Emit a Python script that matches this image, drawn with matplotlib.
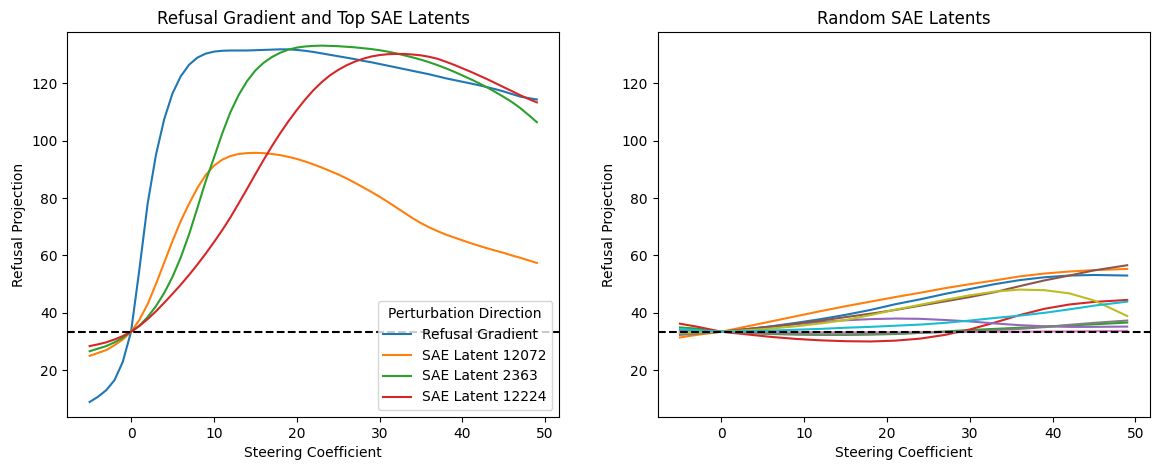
import numpy as np
import matplotlib
matplotlib.use("Agg")
import matplotlib.pyplot as plt

# steering coefficients
coef = np.arange(-5, 50)

baseline = 33.4

refusal_grad = [8.9, 10.7, 13.0, 16.5, 22.9, 33.4, 55.0, 78.0, 95.0, 107.5,
                116.5, 122.5, 126.5, 129.0, 130.4, 131.1, 131.4, 131.5, 131.5, 131.5,
                131.6, 131.7, 131.8, 131.9, 131.9, 131.7, 131.4, 131.0, 130.5, 130.0,
                129.5, 129.0, 128.5, 127.9, 127.4, 126.8, 126.2, 125.6, 125.0, 124.4,
                123.8, 123.2, 122.5, 121.8, 121.2, 120.6, 120.0, 119.4, 118.7, 118.0,
                117.2, 116.3, 115.4, 114.9, 114.4]
latent_12072 = [25.0, 26.0, 27.0, 28.7, 30.7, 33.4, 37.5, 43.0, 50.0, 57.5,
                65.0, 72.0, 78.0, 83.5, 88.0, 91.3, 93.4, 94.7, 95.4, 95.7,
                95.8, 95.7, 95.4, 95.0, 94.4, 93.7, 92.8, 91.8, 90.7, 89.5,
                88.3, 86.9, 85.4, 83.8, 82.2, 80.5, 78.7, 76.8, 74.9, 73.0,
                71.3, 69.8, 68.5, 67.3, 66.3, 65.3, 64.3, 63.4, 62.5, 61.7,
                60.9, 60.0, 59.2, 58.3, 57.4]
latent_2363 = [26.6, 27.5, 28.4, 29.7, 31.3, 33.4, 35.5, 38.5, 42.3, 46.9,
               52.5, 59.3, 67.3, 76.5, 85.8, 94.0, 102.5, 110.0, 116.0, 120.8,
               124.5, 127.2, 129.2, 130.7, 131.8, 132.5, 132.9, 133.1, 133.2, 133.1,
               133.0, 132.8, 132.6, 132.3, 132.0, 131.6, 131.1, 130.5, 129.8, 129.1,
               128.3, 127.4, 126.4, 125.3, 124.1, 122.8, 121.5, 120.1, 118.6, 117.0,
               115.3, 113.5, 111.4, 109.0, 106.5]
latent_12224 = [28.4, 29.0, 29.7, 30.7, 31.9, 33.4, 35.4, 37.8, 40.5, 43.5,
                46.6, 49.8, 53.2, 56.8, 60.6, 64.6, 68.8, 73.3, 78.2, 83.2,
                88.3, 93.3, 98.1, 102.6, 106.8, 110.7, 114.3, 117.6, 120.4, 122.8,
                124.7, 126.3, 127.6, 128.6, 129.4, 129.9, 130.2, 130.3, 130.3, 130.1,
                129.8, 129.3, 128.6, 127.6, 126.5, 125.3, 124.1, 122.8, 121.5, 120.1,
                118.7, 117.3, 115.9, 114.6, 113.4]

# random latents, read at a coarser set of coefficients
coef_rand = [-5, -3, 0, 3, 6, 9, 12, 15, 18, 21, 24, 27, 30, 33, 36, 39, 42, 45, 49]
random_latents = [
    [33.0, 33.2, 33.4, 34.3, 35.3, 36.5, 37.8, 39.3, 41.0, 43.0, 44.7, 46.6, 48.3, 50.0, 51.4, 52.4, 53.0, 53.2, 53.0],
    [31.4, 32.3, 33.4, 35.2, 37.0, 38.8, 40.6, 42.3, 43.9, 45.5, 47.0, 48.6, 50.0, 51.3, 52.7, 53.7, 54.4, 54.9, 55.3],
    [34.9, 34.5, 33.4, 33.0, 32.6, 32.4, 32.3, 32.3, 32.4, 32.6, 33.0, 33.5, 34.0, 34.4, 34.8, 35.2, 35.6, 36.0, 36.6],
    [36.2, 35.2, 33.4, 32.5, 31.6, 30.9, 30.4, 30.1, 30.0, 30.3, 31.0, 32.3, 34.2, 36.6, 39.2, 41.4, 42.9, 43.8, 44.5],
    [33.8, 33.7, 33.4, 34.2, 35.1, 36.0, 36.8, 37.4, 37.8, 38.0, 37.9, 37.5, 37.0, 36.3, 35.7, 35.3, 35.1, 35.1, 35.2],
    [32.6, 32.9, 33.4, 34.3, 35.2, 36.2, 37.3, 38.5, 39.7, 41.0, 42.5, 44.0, 45.5, 47.2, 49.3, 51.3, 53.0, 54.8, 56.6],
    [33.2, 33.3, 33.4, 33.3, 33.3, 33.2, 33.2, 33.2, 33.2, 33.2, 33.3, 33.3, 33.3, 33.4, 33.4, 33.5, 33.5, 33.6, 33.7],
    [32.3, 32.7, 33.4, 33.1, 32.8, 32.6, 32.5, 32.5, 32.6, 32.8, 33.0, 33.3, 33.6, 34.0, 34.4, 35.0, 35.8, 36.5, 37.3],
    [33.0, 33.2, 33.4, 33.9, 34.5, 35.3, 36.3, 37.5, 39.2, 41.1, 42.8, 44.5, 46.1, 47.4, 48.1, 47.9, 46.8, 44.3, 38.9],
    [34.3, 34.0, 33.4, 33.6, 33.8, 34.1, 34.4, 34.8, 35.1, 35.5, 35.9, 36.5, 37.3, 38.2, 39.0, 40.0, 41.2, 42.5, 43.9],
]

top_names = ["Refusal Gradient", "SAE Latent 12072", "SAE Latent 2363", "SAE Latent 12224"]
top_series = [refusal_grad, latent_12072, latent_2363, latent_12224]

fig, (ax1, ax2) = plt.subplots(1, 2, figsize=(11.6, 4.7), dpi=100)
plt.subplots_adjust(left=0.058, right=0.991, top=0.931, bottom=0.113, wspace=0.2)

for name, vals in zip(top_names, top_series):
    ax1.plot(coef, vals, label=name)
ax1.axhline(baseline, color='black', linestyle='--')
ax1.set_title("Refusal Gradient and Top SAE Latents")
ax1.set_xlabel("Steering Coefficient")
ax1.set_ylabel("Refusal Projection")
ax1.legend(title="Perturbation Direction", loc='lower right')

for vals in random_latents:
    ax2.plot(coef_rand, vals)
ax2.axhline(baseline, color='black', linestyle='--')
ax2.set_title("Random SAE Latents")
ax2.set_xlabel("Steering Coefficient")
ax2.set_ylabel("Refusal Projection")

for ax in (ax1, ax2):
    ax.set_ylim(3.7, 137.8)

fig.savefig("out.png")
